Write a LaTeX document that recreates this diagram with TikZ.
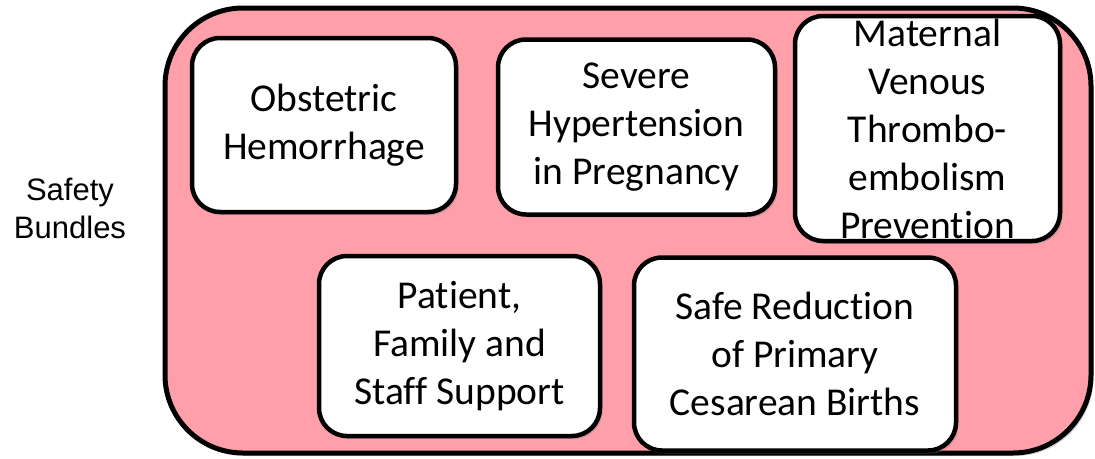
\documentclass[tikz,border=0pt]{standalone}
\usepackage{fontspec}
\setmainfont{Carlito}[Ligatures=NoCommon]
\newfontfamily\labelfont{Liberation Sans}
\usetikzlibrary{shadows}
\definecolor{bundlepink}{RGB}{255,159,170}
\begin{document}
\begin{tikzpicture}[x=1pt,y=-1pt,
  softshadow/.style={drop shadow={opacity=0.35,shadow xshift=2.5pt,shadow yshift=-3pt}},
  outerframe/.style={draw=black,line width=5pt,fill=bundlepink,rounded corners=78pt,
    inner sep=0pt,softshadow},
  bundlebox/.style={draw=black,line width=4.5pt,fill=white,rounded corners=28pt,
    inner sep=0pt,align=center,softshadow,
    font=\fontsize{39.5}{48}\selectfont},
  sidelabel/.style={align=center,inner sep=0pt,font=\labelfont\fontsize{31}{38}\selectfont}]
  \useasboundingbox (0,0) rectangle (1095,458);

  % enclosing frame of the bundles
  \node[outerframe,minimum width=926pt,minimum height=445pt] (frame) at (628,230.5) {};

  % side caption
  \node[sidelabel] (caption) at (70,208) {Safety\\Bundles};

  % top row of bundles
  \node[bundlebox,minimum width=264pt,minimum height=174pt] (hem) at (324,125)
    {Obstetric\\Hemorrhage};
  \node[bundlebox,minimum width=277pt,minimum height=175pt] (hyp) at (636.5,127)
    {Severe\\Hypertension\\in Pregnancy};
  \node[bundlebox,minimum width=265pt,minimum height=225pt] (vte) at (927.5,128.5)
    {Maternal\\Venous\\Thrombo-\\embolism\\Prevention};

  % bottom row of bundles
  \node[bundlebox,minimum width=281pt,minimum height=180pt] (support) at (459.5,346)
    {Patient,\\Family and\\Staff Support};
  \node[bundlebox,minimum width=322pt,minimum height=193pt] (cesarean) at (795,354)
    {Safe Reduction\\of Primary\\Cesarean Births};
\end{tikzpicture}
\end{document}
